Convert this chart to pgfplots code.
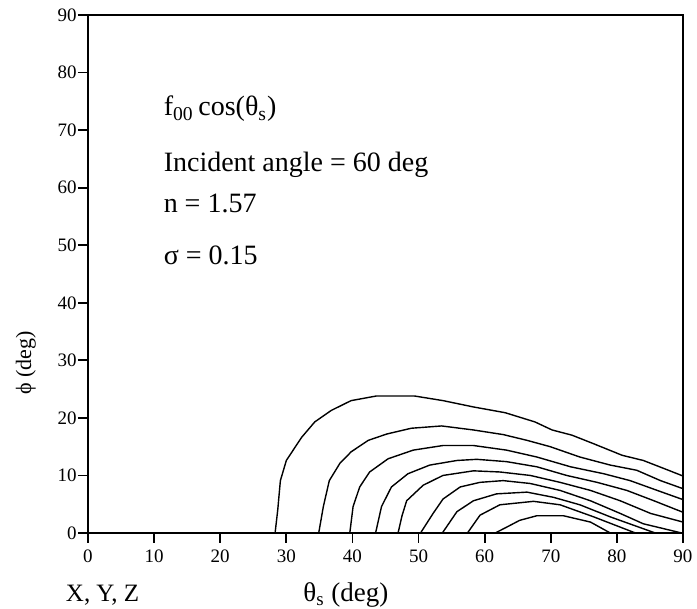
\documentclass[border=0pt]{standalone}
\usepackage{fontspec}
\setmainfont{Liberation Serif}
\usepackage{pgfplots}
\pgfplotsset{compat=1.18}

\begin{document}
\begin{tikzpicture}
\begin{axis}[scale only axis,width=297.5pt,height=259pt,
xmin=0,xmax=90,ymin=0,ymax=90,xtick distance=10,ytick distance=10,
tick align=outside,xtick pos=left,ytick pos=left,major tick length=5pt,
axis line style={line width=1pt},every tick/.style={black,line width=0.9pt},
/pgf/number format/assume math mode=true,
ticklabel style={font=\fontsize{9.5}{11}\selectfont},
yticklabel style={inner xsep=0.5pt},
clip=false]
% contour levels, outermost first
\addplot[black,line width=0.7pt] coordinates {(28.3,0) (28.7,4) (29.1,9.1) (30,12.6) (32.3,16.6) (34.3,19.3) (36.8,21.3) (39.8,23.0) (43.6,23.8) (49.4,23.8) (53.7,23.0) (58.3,21.9) (63.1,20.9) (67.6,19.3) (70.2,17.9) (73.2,17.0) (76.5,15.5) (80.8,13.5) (84,12.6) (87.8,10.9) (90,9.9)};
\addplot[black,line width=0.7pt] coordinates {(34.9,0) (35.6,4.6) (36.5,9.1) (38.1,12.1) (39.8,14.1) (42.4,16.1) (45.2,17.2) (48.9,18.2) (53.5,18.6) (58.3,17.9) (62.8,17.1) (66.4,16.1) (69.9,15.0) (74.4,13.2) (79,11.8) (83,10.9) (86.6,9.1) (90,7.7)};
\addplot[black,line width=0.7pt] coordinates {(39.6,0) (40.1,4.6) (41.1,8.0) (42.6,10.6) (45.4,12.9) (49.2,14.4) (53.7,15.2) (58.3,15.2) (63.3,14.4) (67.9,13.2) (73,11.5) (78,10.3) (82,9.1) (86.1,7.4) (90,5.8)};
\addplot[black,line width=0.7pt] coordinates {(43.5,0) (44.4,4.6) (45.9,8.0) (48.4,10.3) (51.7,11.8) (55.8,12.6) (58.8,12.8) (63.3,12.4) (67.9,11.5) (72.4,10.0) (77,8.8) (81.5,7.4) (85.6,5.6) (90,3.6)};
\addplot[black,line width=0.7pt] coordinates {(46.9,0) (47.5,3) (48.2,5.6) (50.7,8.3) (53.7,10.0) (58.3,10.8) (62.3,10.6) (66.9,10.0) (71.4,8.8) (76,7.4) (80.5,5.6) (85.1,3.4) (90,1.9)};
\addplot[black,line width=0.7pt] coordinates {(50.3,0) (52.2,3.4) (53.7,5.9) (56.3,8.0) (59.3,8.8) (62.8,9.1) (66.9,8.6) (71.4,7.4) (76,5.6) (80.5,3.4) (84,1.6) (89.8,0)};
\addplot[black,line width=0.7pt] coordinates {(53.6,0) (55.8,3.7) (58.3,5.6) (61.8,6.8) (66.4,7.1) (70.4,6.2) (74.4,4.9) (79,2.8) (85.8,0)};
\addplot[black,line width=0.7pt] coordinates {(57.4,0) (59.3,3.1) (62.3,4.9) (67.4,5.5) (71.4,4.9) (76.5,2.8) (82.8,0)};
\addplot[black,line width=0.7pt] coordinates {(61.6,0) (63.3,1.0) (65.3,2.2) (67.9,3.0) (71.9,3.0) (76,1.9) (79,0)};

\begin{scope}[every node/.style={anchor=base west,inner sep=0pt,font=\fontsize{14}{17}\selectfont}]
\node at (axis cs:11.4,72.5) {f\textsubscript{00}\,cos(θ\textsubscript{s})};
\node at (axis cs:11.4,62.8) {Incident angle = 60 deg};
\node at (axis cs:11.4,55.7) {n = 1.57};
\node at (axis cs:11.4,46.7) {σ = 0.15};
\end{scope}
\node[anchor=base,inner sep=0pt,font=\fontsize{12.5}{14}\selectfont] at (axis cs:2.2,-11.9) {X, Y, Z};
\node[anchor=base,inner sep=0pt,font=\fontsize{13.5}{16}\selectfont] at (axis cs:39,-11.9) {θ\textsubscript{s} (deg)};
\node[rotate=90,inner sep=0pt,font=\fontsize{11}{13}\selectfont] at (axis cs:-9.4,29.5) {ϕ (deg)};
\end{axis}
\pgfresetboundingbox
\path (-44pt,-38pt) rectangle (304.5pt,266.5pt);
\end{tikzpicture}
\end{document}
